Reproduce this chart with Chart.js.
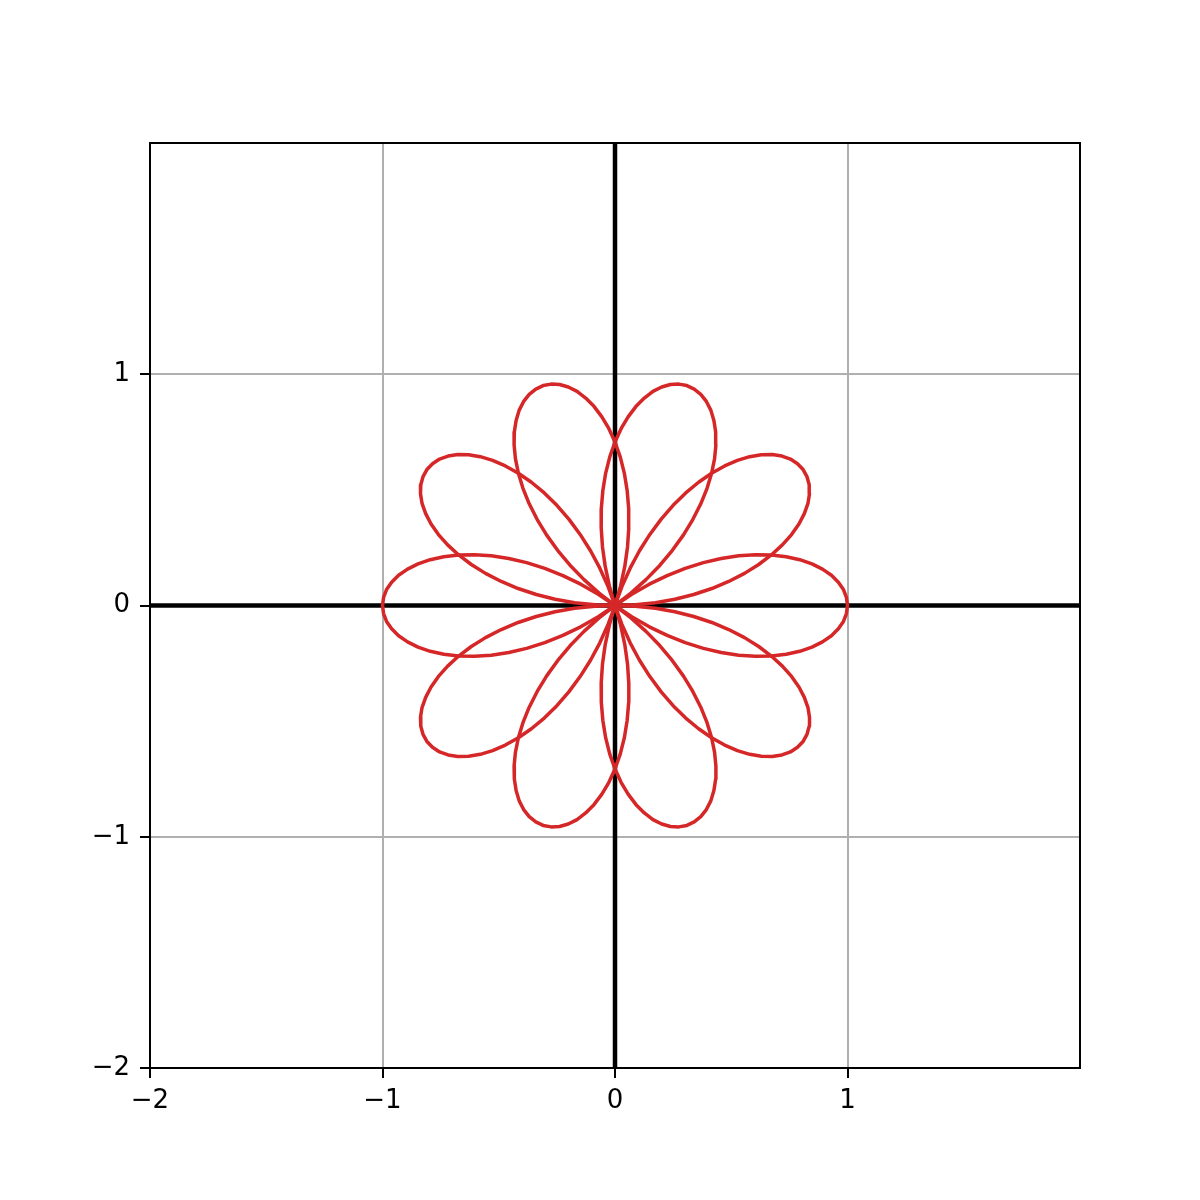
<!DOCTYPE html>
<html>
<head>
<meta charset="utf-8">
<script src="https://cdn.jsdelivr.net/npm/chart.js@4.4.1/dist/chart.umd.min.js"></script>
<style>
  html, body { margin: 0; padding: 0; background: #fff; }
  canvas { display: block; }
</style>
</head>
<body>
<canvas id="roseChart" width="1200" height="1200"></canvas>
<script>
// axis limits and ticks
const xLimits = [-2, 2];
const yLimits = [-2, 2];
const xTicks = [-2, -1, 0, 1];
const yTicks = [-2, -1, 0, 1];

// petal tip directions (degrees)
const petalTipsDeg = [0, 36, 72, 108, 144, 180, 216, 252, 288, 324];
// angular offset from a petal's tip (degrees) and the radius there
const petalOffsetsDeg = [0, 2, 4, 6, 8, 10, 12, 14, 16, 18, 20, 22, 24, 26, 28, 30, 32, 34, 36];
const petalRadius = [1.000, 0.996, 0.985, 0.966, 0.940, 0.906, 0.866, 0.819, 0.766, 0.707,
                     0.643, 0.574, 0.500, 0.423, 0.342, 0.259, 0.174, 0.087, 0.000];

const RED = '#d62728';

// polar -> cartesian, one dataset per petal (each petal is symmetric about its tip)
function petalPoints(tipDeg) {
  const pts = [];
  const n = petalOffsetsDeg.length;
  for (let i = n - 1; i >= 1; i--) {
    const a = (tipDeg - petalOffsetsDeg[i]) * Math.PI / 180;
    pts.push({ x: petalRadius[i] * Math.cos(a), y: petalRadius[i] * Math.sin(a) });
  }
  for (let i = 0; i < n; i++) {
    const a = (tipDeg + petalOffsetsDeg[i]) * Math.PI / 180;
    pts.push({ x: petalRadius[i] * Math.cos(a), y: petalRadius[i] * Math.sin(a) });
  }
  return pts;
}

const petalSets = petalTipsDeg.map(t => ({
  data: petalPoints(t),
  showLine: true,
  borderColor: RED,
  borderWidth: 3.5,
  borderJoinStyle: 'round',
  pointRadius: 0,
  tension: 0,
  fill: false,
  order: 0
}));

// black zero lines across the whole axes
const zeroLines = [
  { data: [{ x: xLimits[0], y: 0 }, { x: xLimits[1], y: 0 }] },
  { data: [{ x: 0, y: yLimits[0] }, { x: 0, y: yLimits[1] }] }
].map(d => Object.assign(d, {
  showLine: true, borderColor: '#000', borderWidth: 4.5, pointRadius: 0, order: 1
}));

const fmt = v => (v < 0 ? '\u2212' + Math.abs(v) : String(v));

// full frame (top/right spines too)
const framePlugin = {
  id: 'frame',
  afterDraw(chart) {
    const { ctx, chartArea: a } = chart;
    ctx.save();
    ctx.strokeStyle = '#000';
    ctx.lineWidth = 2;
    ctx.strokeRect(a.left, a.top, a.right - a.left, a.bottom - a.top);
    ctx.restore();
  }
};

Chart.defaults.color = '#000';
Chart.defaults.font.family = "'DejaVu Sans', sans-serif";
Chart.defaults.font.size = 26;

const ctx = document.getElementById('roseChart').getContext('2d');
new Chart(ctx, {
  type: 'scatter',
  data: { datasets: [...petalSets, ...zeroLines] },
  options: {
    responsive: false,
    animation: false,
    devicePixelRatio: 1,
    layout: { padding: { top: 143, right: 120, left: 0, bottom: 0 } },
    plugins: { legend: { display: false }, tooltip: { enabled: false } },
    scales: {
      x: {
        type: 'linear',
        min: xLimits[0], max: xLimits[1],
        afterBuildTicks: s => { s.ticks = xTicks.map(v => ({ value: v })); },
        afterFit: s => { s.height = 132; },
        ticks: { callback: fmt, padding: 8, maxRotation: 0 },
        grid: { color: '#b0b0b0', lineWidth: 2, tickColor: '#000', tickLength: 10, tickWidth: 2 },
        border: { color: '#000', width: 2 }
      },
      y: {
        type: 'linear',
        min: yLimits[0], max: yLimits[1],
        afterBuildTicks: s => { s.ticks = yTicks.map(v => ({ value: v })); },
        afterFit: s => { s.width = 150; },
        ticks: { callback: fmt, padding: 10 },
        grid: { color: '#b0b0b0', lineWidth: 2, tickColor: '#000', tickLength: 10, tickWidth: 2 },
        border: { color: '#000', width: 2 }
      }
    }
  },
  plugins: [framePlugin]
});
</script>
</body>
</html>
